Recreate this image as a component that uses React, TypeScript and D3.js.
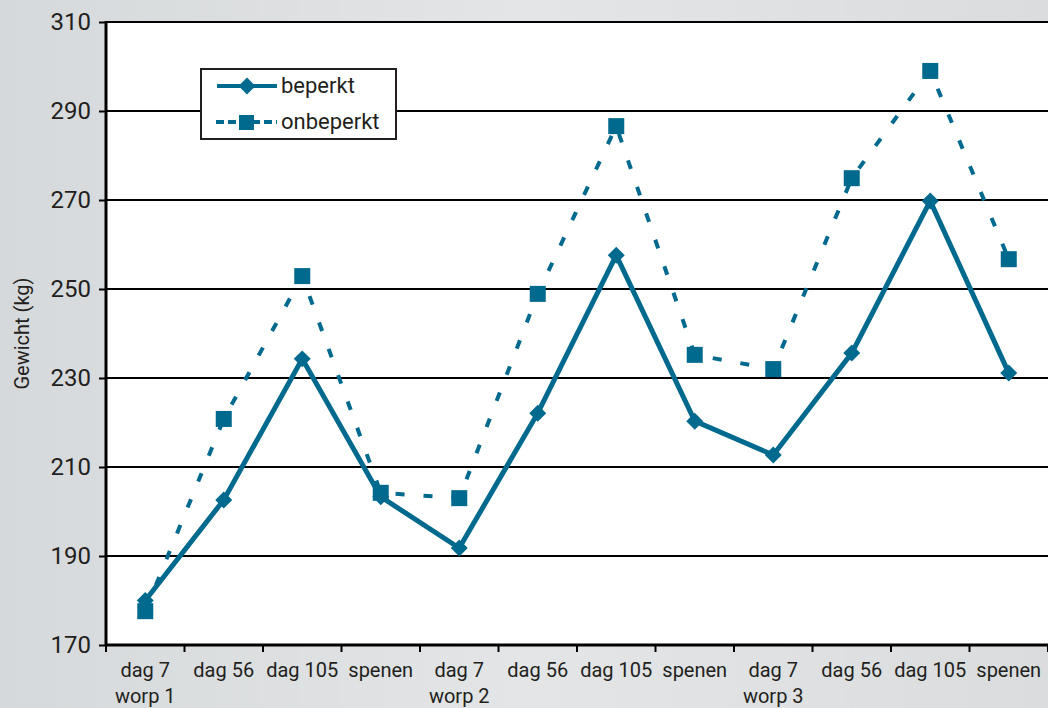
import React, {useEffect, useRef} from 'react';
import * as d3 from 'd3';

// x categories (two-line labels)
const dagen = ['dag 7', 'dag 56', 'dag 105', 'spenen', 'dag 7', 'dag 56', 'dag 105', 'spenen', 'dag 7', 'dag 56', 'dag 105', 'spenen'];
const worpen = ['worp 1', '', '', '', 'worp 2', '', '', '', 'worp 3', '', '', ''];

// weight in kg
const beperkt = [180, 202.6, 234.3, 203.3, 191.8, 222.1, 257.6, 220.3, 212.7, 235.6, 269.8, 231.1];
const onbeperkt = [177.6, 220.8, 252.9, 204.2, 203.0, 248.9, 286.6, 235.2, 232.0, 274.9, 299.0, 256.7];

const yTicks = [170, 190, 210, 230, 250, 270, 290, 310];

const W = 1048;
const H = 708;
const margin = {top: 22, right: 0, bottom: 63, left: 106};
const BLUE = '#006a8e';
const INK = '#231f20';
const FONT = 'Roboto, "Liberation Sans", sans-serif';

const App: React.FC = () => {
    const svgRef = useRef<SVGSVGElement | null>(null);

    useEffect(() => {
        const svg = d3.select(svgRef.current);
        svg.selectAll('*').remove();

        const x = d3.scaleBand<number>()
            .domain(d3.range(dagen.length))
            .range([margin.left, W - margin.right])
            .padding(0);
        const y = d3.scaleLinear()
            .domain([170, 310])
            .range([H - margin.bottom, margin.top]);
        const cx = (i: number) => (x(i) as number) + x.bandwidth() / 2;

        // background, imitating the greyish photo behind the chart
        const defs = svg.append('defs');
        const grad = defs.append('linearGradient').attr('id', 'bg').attr('x1', 0).attr('x2', 1).attr('y1', 0).attr('y2', 0);
        grad.append('stop').attr('offset', '0%').attr('stop-color', '#d6d9db');
        grad.append('stop').attr('offset', '50%').attr('stop-color', '#e3e5e6');
        grad.append('stop').attr('offset', '100%').attr('stop-color', '#dadcde');
        svg.append('rect').attr('width', W).attr('height', H).attr('fill', 'url(#bg)');

        // plot area
        svg.append('rect')
            .attr('x', margin.left).attr('y', margin.top)
            .attr('width', W - margin.left - margin.right)
            .attr('height', H - margin.top - margin.bottom)
            .attr('fill', '#ffffff');

        // gridlines
        svg.append('g')
            .selectAll('line')
            .data(yTicks.filter(t => t !== 170))
            .join('line')
            .attr('x1', margin.left).attr('x2', W)
            .attr('y1', d => y(d)).attr('y2', d => y(d))
            .attr('stroke', '#000').attr('stroke-width', 2);

        // y axis
        const yAxis = svg.append('g')
            .attr('transform', `translate(${margin.left},0)`)
            .call(d3.axisLeft(y).tickValues(yTicks).tickSize(7).tickPadding(8).tickFormat(d3.format('d')));
        yAxis.select('.domain').remove();
        yAxis.selectAll('line').attr('stroke', '#000').attr('stroke-width', 2);
        yAxis.selectAll('text')
            .attr('fill', INK).attr('font-size', 24).attr('font-family', FONT);
        svg.append('line')
            .attr('x1', margin.left).attr('x2', margin.left)
            .attr('y1', margin.top - 1).attr('y2', y(170) + 1)
            .attr('stroke', '#000').attr('stroke-width', 3);

        // x axis
        const xTicks = d3.range(dagen.length + 1).map(i => margin.left + i * x.bandwidth());
        svg.append('g')
            .selectAll('line')
            .data(xTicks)
            .join('line')
            .attr('x1', d => d).attr('x2', d => d)
            .attr('y1', y(170)).attr('y2', y(170) + 7)
            .attr('stroke', '#000').attr('stroke-width', 2);
        svg.append('line')
            .attr('x1', margin.left - 1).attr('x2', W)
            .attr('y1', y(170)).attr('y2', y(170))
            .attr('stroke', '#000').attr('stroke-width', 3);

        const labels = svg.append('g')
            .attr('fill', INK).attr('font-size', 20).attr('font-family', FONT).attr('text-anchor', 'middle');
        labels.selectAll('text.dag')
            .data(dagen)
            .join('text')
            .attr('class', 'dag')
            .attr('x', (d, i) => cx(i)).attr('y', 677)
            .text(d => d);
        labels.selectAll('text.worp')
            .data(worpen)
            .join('text')
            .attr('class', 'worp')
            .attr('x', (d, i) => cx(i)).attr('y', 703)
            .text(d => d);

        // y title
        svg.append('text')
            .attr('transform', `translate(29,${(margin.top + H - margin.bottom) / 2}) rotate(-90)`)
            .attr('text-anchor', 'middle')
            .attr('fill', INK).attr('font-size', 20).attr('font-family', FONT)
            .text('Gewicht (kg)');

        const line = d3.line<number>()
            .x((d, i) => cx(i))
            .y(d => y(d));

        // onbeperkt (dashed, squares)
        svg.append('path')
            .datum(onbeperkt)
            .attr('d', line)
            .attr('fill', 'none')
            .attr('stroke', BLUE).attr('stroke-width', 4)
            .attr('stroke-dasharray', '9,19');
        svg.append('g')
            .selectAll('rect')
            .data(onbeperkt)
            .join('rect')
            .attr('x', (d, i) => cx(i) - 8).attr('y', d => y(d) - 8)
            .attr('width', 16).attr('height', 16)
            .attr('fill', BLUE);

        // beperkt (solid, diamonds)
        svg.append('path')
            .datum(beperkt)
            .attr('d', line)
            .attr('fill', 'none')
            .attr('stroke', BLUE).attr('stroke-width', 5)
            .attr('stroke-linejoin', 'miter');
        svg.append('g')
            .selectAll('rect')
            .data(beperkt)
            .join('rect')
            .attr('x', -6).attr('y', -6)
            .attr('width', 12).attr('height', 12)
            .attr('transform', (d, i) => `translate(${cx(i)},${y(d)}) rotate(45)`)
            .attr('fill', BLUE);

        // legend
        const lg = svg.append('g').attr('transform', 'translate(201,69)');
        lg.append('rect')
            .attr('width', 195).attr('height', 70)
            .attr('fill', '#fff').attr('stroke', INK).attr('stroke-width', 2);
        lg.append('line')
            .attr('x1', 16).attr('x2', 76).attr('y1', 17).attr('y2', 17)
            .attr('stroke', BLUE).attr('stroke-width', 4);
        lg.append('rect')
            .attr('x', -6).attr('y', -6).attr('width', 12).attr('height', 12)
            .attr('transform', 'translate(46,17) rotate(45)')
            .attr('fill', BLUE);
        lg.append('line')
            .attr('x1', 15).attr('x2', 76).attr('y1', 53).attr('y2', 53)
            .attr('stroke', BLUE).attr('stroke-width', 4)
            .attr('stroke-dasharray', '8,4');
        lg.append('rect')
            .attr('x', 38).attr('y', 46).attr('width', 15).attr('height', 15)
            .attr('fill', BLUE);
        lg.selectAll('text')
            .data(['beperkt', 'onbeperkt'])
            .join('text')
            .attr('x', 80).attr('y', (d, i) => 24 + i * 36)
            .attr('fill', INK).attr('font-size', 22).attr('font-family', FONT)
            .text(d => d);
    }, []);

    return (
        <svg ref={svgRef} width={W} height={H}
             style={{position: 'absolute', left: 0, top: 0, display: 'block'}}/>
    );
};

export default App;
